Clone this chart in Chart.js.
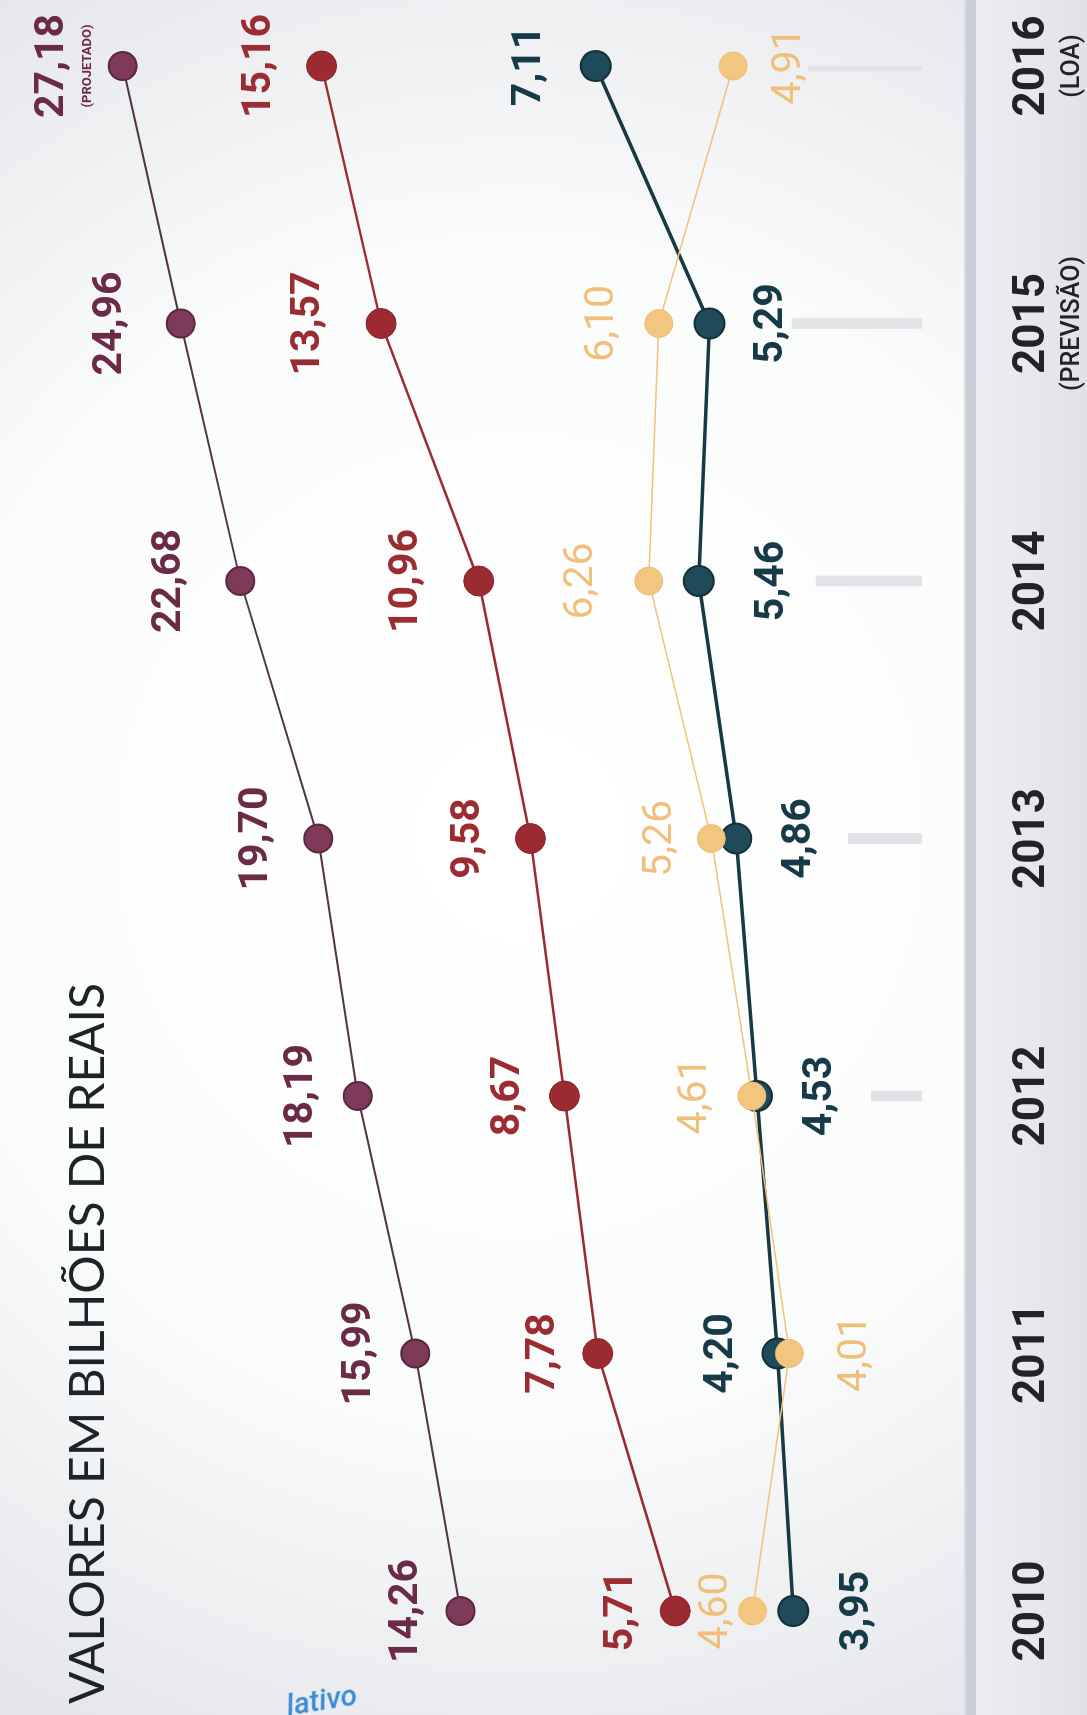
<!DOCTYPE html>
<html lang="pt-BR">
<head>
<meta charset="utf-8">
<title>Valores em bilhões de reais</title>
<script src="https://cdn.jsdelivr.net/npm/chart.js@4.4.1/dist/chart.umd.min.js"></script>
<style>
    html, body { margin: 0; padding: 0; }
    body { width: 1087px; height: 1715px; overflow: hidden; position: relative; background: #f1f2f4; }
    /* o grafico e desenhado deitado e girado 90 graus, como na pagina impressa */
    #giro { position: absolute; left: 0; top: 0; width: 1715px; height: 1087px;
            transform-origin: 0 0; transform: translate(0, 1715px) rotate(-90deg); }
    #rodape { position: absolute; left: 286px; top: 1682px; font: italic 500 30px Roboto, sans-serif;
              color: #3b8bd4; transform: rotate(-9deg); }
</style>
</head>
<body>
<div id="giro"><canvas id="grafico" width="1715" height="1087"></canvas></div>
<div id="rodape">lativo</div>
<script>
let anos = ['2010', '2011', '2012', '2013', '2014', '2015', '2016'];
let notasAno = ['', '', '', '', '', '(PREVISÃO)', '(LOA)'];
let notasRoxa = ['', '', '', '', '', '', '(PROJETADO)'];

let serieRoxa = [14.26, 15.99, 18.19, 19.70, 22.68, 24.96, 27.18];
let serieVermelha = [5.71, 7.78, 8.67, 9.58, 10.96, 13.57, 15.16];
let serieAzul = [3.95, 4.20, 4.53, 4.86, 5.46, 5.29, 7.11];
let serieAmarela = [4.60, 4.01, 4.61, 5.26, 6.26, 6.10, 4.91];
// barrinhas cinza claras ao fundo (sem escala impressa)
let barrasFundo = [null, null, 5.2, 7.6, 10.9, 13.4, 11.7];

function formatar(v) {
    return v.toFixed(2).replace('.', ',');
}

const pluginFundo = {
    id: 'fundo',
    beforeDraw: function (chart) {
        let ctx = chart.ctx;
        let w = chart.width, h = chart.height;
        ctx.save();
        let g = ctx.createRadialGradient(880, 520, 80, 880, 520, 1000);
        g.addColorStop(0, '#ffffff');
        g.addColorStop(0.55, '#fafbfb');
        g.addColorStop(1, '#e4e6ea');
        ctx.fillStyle = g;
        ctx.fillRect(0, 0, w, h);
        // faixa dos anos
        let f = ctx.createLinearGradient(0, 976, 0, h);
        f.addColorStop(0, '#eceef1');
        f.addColorStop(1, '#e0e2e6');
        ctx.fillStyle = f;
        ctx.fillRect(0, 976, w, h - 976);
        ctx.fillStyle = '#c9ced7';
        ctx.fillRect(0, 964, w, 12);
        ctx.fillStyle = '#d9dde3';
        ctx.fillRect(0, 964, w, 2);
        ctx.restore();
    }
};

const pluginRotulos = {
    id: 'rotulos',
    afterDatasetsDraw: function (chart) {
        let ctx = chart.ctx;
        ctx.save();
        ctx.textAlign = 'center';
        ctx.textBaseline = 'alphabetic';
        chart.data.datasets.forEach(function (ds, i) {
            if (!ds.rotulos) return;
            let meta = chart.getDatasetMeta(i);
            ctx.font = ds.rotulos.fonte;
            ctx.fillStyle = ds.rotulos.cor;
            meta.data.forEach(function (pt, j) {
                ctx.fillText(formatar(ds.data[j]), pt.x, pt.y + ds.rotulos.desloc[j] + 14.5);
            });
            if (ds.rotulos.notas) {
                ctx.font = '700 13px Roboto';
                meta.data.forEach(function (pt, j) {
                    if (ds.rotulos.notas[j]) ctx.fillText(ds.rotulos.notas[j], pt.x, pt.y - 32);
                });
            }
        });

        // anos na faixa lateral
        let x = chart.scales.x;
        ctx.fillStyle = '#222324';
        anos.forEach(function (ano, i) {
            let px = x.getPixelForTick(i);
            ctx.font = '700 44px Roboto';
            ctx.fillText(ano, px, 1044);
            if (notasAno[i]) {
                ctx.font = '500 25px Roboto';
                ctx.fillText(notasAno[i], px, 1079);
            }
        });

        // titulo
        ctx.textAlign = 'left';
        ctx.fillStyle = '#1e2327';
        ctx.font = '400 48px Lato';
        ctx.fillText('VALORES EM BILHÕES DE REAIS', 11, 104);
        ctx.restore();
    }
};

let grafico = new Chart(document.getElementById('grafico'), {
    type: 'line',
    data: {
        labels: anos,
        datasets: [
        {
            label: 'Amarela',
            data: serieAmarela,
            yAxisID: 'yBaixo',
            borderColor: '#f2c27c',
            borderWidth: 1.5,
            pointRadius: 14,
            pointBackgroundColor: '#f3c680',
            pointBorderColor: '#eebd74',
            pointBorderWidth: 1,
            order: 1,
            rotulos: { fonte: '400 41px Roboto', cor: '#f0c07a', desloc: [-40, 62, -60, -55, -71, -60, 52] }
        },
        {
            label: 'Azul',
            data: serieAzul,
            yAxisID: 'yBaixo',
            borderColor: '#183843',
            borderWidth: 3.5,
            pointRadius: 15,
            pointBackgroundColor: '#1f4a5a',
            pointBorderColor: '#143039',
            pointBorderWidth: 2,
            order: 2,
            rotulos: { fonte: '700 41px Roboto', cor: '#173a48', desloc: [60, -60, 60, 59, 70, 58, -70] }
        },
        {
            label: 'Vermelha',
            data: serieVermelha,
            yAxisID: 'yVermelho',
            borderColor: '#9c2b31',
            borderWidth: 2.5,
            pointRadius: 15,
            pointBackgroundColor: '#9c2b31',
            pointBorderColor: '#8a2329',
            pointBorderWidth: 1,
            order: 3,
            rotulos: { fonte: '700 41px Roboto', cor: '#9b2c32', desloc: [-58, -58, -60, -66, -76, -77, -66] }
        },
        {
            label: 'Roxa',
            data: serieRoxa,
            yAxisID: 'yRoxo',
            borderColor: '#4f3642',
            borderWidth: 2,
            pointRadius: 14,
            pointBackgroundColor: '#7e3a58',
            pointBorderColor: '#5b2840',
            pointBorderWidth: 2,
            order: 4,
            rotulos: { fonte: '700 41px Roboto', cor: '#6b2a45', desloc: [-58, -60, -60, -66, -75, -74, -74], notas: notasRoxa }
        },
        {
            type: 'bar',
            label: 'Fundo',
            data: barrasFundo,
            yAxisID: 'yBarra',
            backgroundColor: '#e2e3e6',
            barThickness: 10,
            order: 10
        }
        ]
    },
    options: {
        responsive: false,
        animation: false,
        events: [],
        layout: { padding: { left: 104, right: 66, top: 0, bottom: 0 } },
        plugins: {
            legend: { display: false },
            tooltip: { enabled: false }
        },
        elements: { line: { tension: 0 } },
        scales: {
            x: { type: 'category', display: false, offset: false },
            yRoxo: { type: 'linear', display: false, min: -9.04, max: 31.22 },
            yVermelho: { type: 'linear', display: false, min: -4.84, max: 23.30 },
            yBaixo: { type: 'linear', display: false, min: -0.48, max: 16.37 },
            yBarra: { type: 'linear', display: false, min: -15.3, max: 93.4 }
        }
    },
    plugins: [pluginFundo, pluginRotulos]
});
</script>
</body>
</html>
